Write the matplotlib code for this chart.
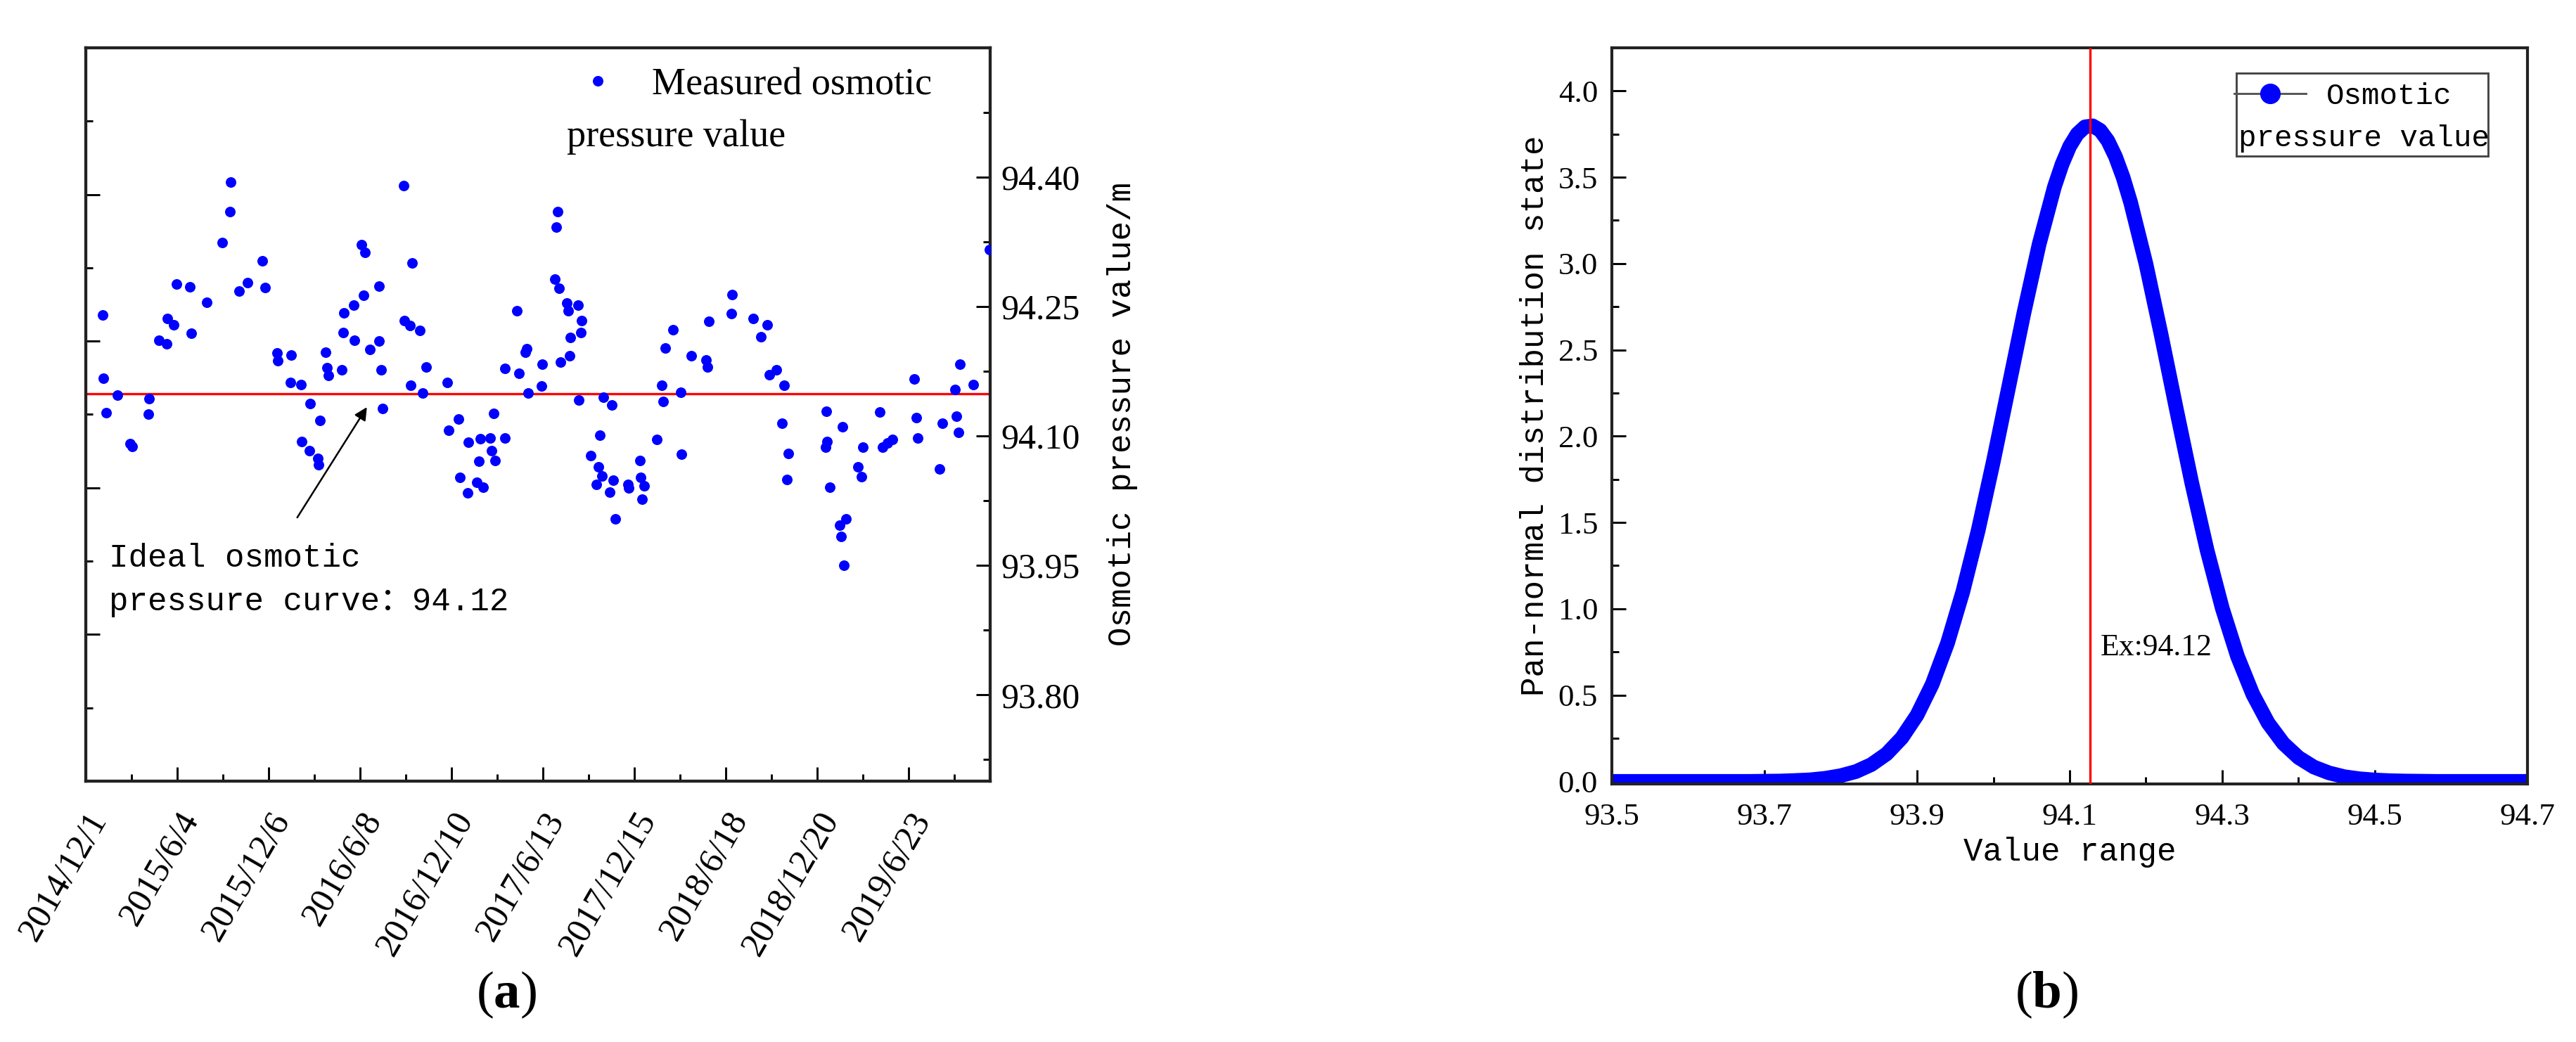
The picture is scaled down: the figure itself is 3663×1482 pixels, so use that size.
import numpy as np
import matplotlib
matplotlib.use("Agg")
import matplotlib.pyplot as plt
import matplotlib.dates as mdates
from matplotlib.ticker import FixedLocator, FormatStrFormatter, NullFormatter
from matplotlib.transforms import ScaledTranslation
from matplotlib.lines import Line2D
from matplotlib.patches import Rectangle
import datetime as dt

plt.rcParams['font.family'] = ['Liberation Serif', 'DejaVu Serif']
plt.rcParams['mathtext.fontset'] = 'custom'
plt.rcParams['mathtext.rm'] = 'Liberation Serif'
plt.rcParams['mathtext.bf'] = 'Liberation Serif:bold'
MONO = ['Liberation Mono', 'Noto Sans CJK SC', 'DejaVu Sans Mono']

# ---------------- data: panel (a) ----------------
start_date = "2014-12-01"
axis_span_days = 1830
days_since_start = [
    34, 36, 42, 65, 90, 94, 127, 128, 148, 164, 166, 178, 184, 211, 214, 245,
    277, 292, 294, 310, 328, 357, 363, 388, 389, 414, 416, 436, 437, 453, 454,
    470, 472, 474, 486, 489, 491, 518, 521, 523, 543, 544, 558, 562, 565, 575,
    593, 594, 598, 601, 643, 645, 656, 657, 661, 676, 682, 689, 731, 735, 755,
    757, 773, 775, 791, 796, 799, 804, 818, 821, 825, 828, 848, 849, 873, 877,
    889, 893, 896, 923, 924, 949, 952, 955, 958, 961, 974, 976, 979, 981, 996,
    998, 1002, 1004, 1022, 1034, 1038, 1040, 1045, 1047, 1061, 1064, 1067, 1072,
    1097, 1099, 1121, 1123, 1126, 1130, 1155, 1166, 1168, 1172, 1189, 1204, 1206,
    1225, 1255, 1258, 1261, 1306, 1308, 1351, 1366, 1379, 1383, 1398, 1409, 1413,
    1419, 1422, 1497, 1498, 1500, 1505, 1525, 1529, 1531, 1534, 1538, 1562, 1570,
    1572, 1607, 1613, 1622, 1632, 1677, 1681, 1684, 1728, 1733, 1759, 1762, 1766,
    1769, 1796, 1828]
measured_values = [
    94.240, 94.167, 94.127, 94.147, 94.091, 94.088, 94.125, 94.143, 94.211, 94.207,
    94.236, 94.229, 94.276, 94.273, 94.219, 94.255, 94.324, 94.360, 94.394, 94.268,
    94.278, 94.303, 94.272, 94.196, 94.187, 94.162, 94.194, 94.160, 94.094, 94.083,
    94.138, 94.074, 94.067, 94.118, 94.197, 94.179, 94.170, 94.177, 94.220, 94.243,
    94.252, 94.211, 94.322, 94.263, 94.313, 94.200, 94.210, 94.274, 94.177, 94.132,
    94.390, 94.234, 94.228, 94.159, 94.301, 94.222, 94.150, 94.180, 94.162, 94.107,
    94.120, 94.052, 94.034, 94.093, 94.046, 94.071, 94.097, 94.041, 94.098, 94.083,
    94.126, 94.072, 94.098, 94.178, 94.245, 94.173, 94.197, 94.201, 94.150, 94.158,
    94.183, 94.282, 94.342, 94.360, 94.271, 94.186, 94.254, 94.245, 94.193, 94.214,
    94.252, 94.142, 94.220, 94.234, 94.077, 94.044, 94.064, 94.101, 94.054, 94.145,
    94.035, 94.136, 94.049, 94.004, 94.044, 94.040, 94.072, 94.052, 94.027, 94.042,
    94.096, 94.159, 94.140, 94.202, 94.223, 94.151, 94.079, 94.193, 94.188, 94.180,
    94.233, 94.242, 94.264, 94.236, 94.215, 94.229, 94.171, 94.177, 94.115, 94.159,
    94.050, 94.080, 94.087, 94.129, 94.094, 94.041, 93.997, 93.984, 94.111, 93.950,
    94.004, 94.064, 94.053, 94.087, 94.128, 94.087, 94.092, 94.096, 94.166, 94.121,
    94.098, 94.062, 94.115, 94.154, 94.123, 94.104, 94.183, 94.160, 94.316]
ideal_value = 94.12
x_tick_labels = ["2014/12/1", "2015/6/4", "2015/12/6", "2016/6/8", "2016/12/10",
                 "2017/6/13", "2017/12/15", "2018/6/18", "2018/12/20", "2019/6/23"]
right_y_ticks = [93.80, 93.95, 94.10, 94.25, 94.40]

# ---------------- data: panel (b) ----------------
value_grid = [
    93.50, 93.52, 93.54, 93.56, 93.58, 93.60, 93.62, 93.64, 93.66, 93.68,
    93.70, 93.72, 93.74, 93.76, 93.78, 93.80, 93.82, 93.84, 93.86, 93.88,
    93.90, 93.92, 93.94, 93.96, 93.98, 94.00, 94.02, 94.04, 94.06, 94.08,
    94.09, 94.10, 94.11, 94.12, 94.13, 94.14, 94.15, 94.16, 94.17, 94.18,
    94.20, 94.22, 94.24, 94.26, 94.28,
    94.30, 94.32, 94.34, 94.36, 94.38, 94.40, 94.42, 94.44, 94.46, 94.48,
    94.50, 94.52, 94.54, 94.56, 94.58, 94.60, 94.62, 94.64, 94.66, 94.68, 94.70]
density_values = [
    0.000, 0.000, 0.000, 0.000, 0.000, 0.000, 0.000, 0.000, 0.000, 0.000,
    0.001, 0.002, 0.005, 0.009, 0.018, 0.033, 0.057, 0.097, 0.159, 0.252,
    0.384, 0.564, 0.802, 1.099, 1.452, 1.854, 2.283, 2.713, 3.112, 3.444,
    3.575, 3.679, 3.751, 3.792, 3.798, 3.772, 3.712, 3.620, 3.500, 3.353,
    2.998, 2.586, 2.153, 1.730, 1.341,
    1.003, 0.724, 0.505, 0.339, 0.220, 0.138, 0.083, 0.049, 0.027, 0.015,
    0.008, 0.004, 0.002, 0.001, 0.000, 0.000, 0.000, 0.000, 0.000, 0.000, 0.000]
ex_value = 94.127
b_x_ticks = [93.5, 93.7, 93.9, 94.1, 94.3, 94.5, 94.7]
b_y_ticks = [0.0, 0.5, 1.0, 1.5, 2.0, 2.5, 3.0, 3.5, 4.0]

BLUE = '#0000ff'
SPINE = '#222222'
DPI = 300

fig = plt.figure(figsize=(3663 / DPI, 1482 / DPI), dpi=DPI)

# ================= panel (a) =================
ax = fig.add_axes([0.03322, 0.25034, 0.35117, 0.70378])
ax2 = ax.twinx()

start = np.datetime64(start_date)
dates = start + np.array(days_since_start).astype('timedelta64[D]')
ax.set_xlim(start, start + np.timedelta64(axis_span_days, 'D'))

# left axis: ideal line (unlabelled scale)
lo = ideal_value - 0.528
ax.set_ylim(lo, lo + 1.0)
ax.axhline(ideal_value, color='red', lw=0.8, zorder=2)
ax.yaxis.set_major_locator(FixedLocator([lo + f for f in (0.2, 0.4, 0.6, 0.8)]))
ax.yaxis.set_minor_locator(FixedLocator([lo + f for f in (0.1, 0.3, 0.5, 0.7, 0.9)]))
ax.tick_params(axis='y', which='both', direction='in', left=True, right=False,
               labelleft=False, labelright=False)

# right axis: measured values
pts, = ax2.plot(dates, measured_values, linestyle='none', marker='o', ms=3.6,
                mew=0, color=BLUE, zorder=3)
ax2.set_ylim(93.70, 94.55)
ax2.yaxis.set_major_locator(FixedLocator(right_y_ticks))
ax2.yaxis.set_minor_locator(FixedLocator([93.725, 93.875, 94.025, 94.175, 94.325, 94.475]))
ax2.yaxis.set_major_formatter(FormatStrFormatter('%.2f'))
ax2.tick_params(axis='y', which='both', direction='in', right=True, left=False,
                labelright=True, labelleft=False, labelsize=12, pad=3.6)
ax2.set_ylabel('Osmotic pressure value/m', family=MONO, fontsize=11)
ax2.yaxis.set_label_coords(1.129, 0.5)

# x axis dates
tick_dates = [mdates.date2num(dt.datetime.strptime(s, "%Y/%m/%d")) for s in x_tick_labels]
minor_dates = [(tick_dates[i] + tick_dates[i + 1]) / 2 for i in range(len(tick_dates) - 1)]
minor_dates.append(tick_dates[-1] + (tick_dates[1] - tick_dates[0]) / 2)
ax.xaxis.set_major_locator(FixedLocator(tick_dates))
ax.xaxis.set_minor_locator(FixedLocator(minor_dates))
ax.set_xticklabels(x_tick_labels, rotation=60, ha='right', va='top',
                   rotation_mode='anchor', fontsize=12)
ax.xaxis.set_minor_formatter(NullFormatter())
ax.tick_params(axis='x', which='both', direction='in', top=False, bottom=True, pad=8.6)
off = ScaledTranslation(30 / DPI, 0, fig.dpi_scale_trans)
for lab in ax.get_xticklabels():
    lab.set_transform(lab.get_transform() + off)

for a in (ax, ax2):
    a.tick_params(which='major', length=4.8, width=0.7, color='black')
    a.tick_params(which='minor', length=2.4, width=0.7, color='black')
    for s in a.spines.values():
        s.set_linewidth(1.0)
        s.set_color(SPINE)

# legend of panel (a)
ax2.legend(handles=[pts], labels=['Measured osmotic'], loc='center left',
           bbox_to_anchor=(0.545, 0.949), frameon=False, handlelength=1.0,
           handletextpad=0.93, borderpad=0, borderaxespad=0, fontsize=13)
ax2.text(0.532, 0.866, 'pressure value', transform=ax2.transAxes, fontsize=13,
         va='baseline', ha='left')

# annotation of the ideal line
ax2.text(0.026, 0.292, 'Ideal osmotic', transform=ax2.transAxes, family=MONO,
         fontsize=11, va='baseline', ha='left')
ax2.text(0.026, 0.233, 'pressure curve：94.12', transform=ax2.transAxes, family=MONO,
         fontsize=11, va='baseline', ha='left')
ax2.annotate('', xy=(0.311, 0.510), xytext=(0.234, 0.3595),
             xycoords='axes fraction', textcoords='axes fraction',
             arrowprops=dict(arrowstyle='-|>', color='black', lw=0.6,
                             mutation_scale=9, shrinkA=0, shrinkB=0))

fig.text(0.1965, 0.045, r'($\mathbf{a}$)', ha='center', va='center', fontsize=18)

# ================= panel (b) =================
bx = fig.add_axes([0.62572, 0.24764, 0.35544, 0.70648])
bx.plot(value_grid, density_values, color=BLUE, lw=5.0,
        solid_joinstyle='round', solid_capstyle='butt', zorder=2)
bx.axvline(ex_value, color='red', lw=0.8, zorder=3)
bx.text(ex_value + 0.013, 0.775, 'Ex:94.12', fontsize=10.5, va='center', ha='left')
bx.set_xlim(93.5, 94.7)
bx.set_ylim(-0.015, 4.25)
bx.xaxis.set_major_locator(FixedLocator(b_x_ticks))
bx.xaxis.set_minor_locator(FixedLocator([93.6, 93.8, 94.0, 94.2, 94.4, 94.6]))
bx.xaxis.set_major_formatter(FormatStrFormatter('%.1f'))
bx.yaxis.set_major_locator(FixedLocator(b_y_ticks))
bx.yaxis.set_minor_locator(FixedLocator([0.25, 0.75, 1.25, 1.75, 2.25, 2.75, 3.25, 3.75, 4.25]))
bx.yaxis.set_major_formatter(FormatStrFormatter('%.1f'))
bx.tick_params(axis='both', which='both', direction='in', top=False, right=False,
               labelsize=10.8)
bx.tick_params(axis='x', pad=6.5)
bx.tick_params(axis='y', pad=4.8)
bx.tick_params(which='major', length=4.8, width=0.7, color='black')
bx.tick_params(which='minor', length=2.4, width=0.7, color='black')
for s in bx.spines.values():
    s.set_linewidth(1.0)
    s.set_color(SPINE)
bx.set_xlabel('Value range', family=MONO, fontsize=11)
bx.xaxis.set_label_coords(0.5, -0.072)
bx.set_ylabel('Pan-normal distribution state', family=MONO, fontsize=11)
bx.yaxis.set_label_coords(-0.067, 0.5)

# legend of panel (b)
bx.add_patch(Rectangle((0.682, 0.8529), 0.275, 0.1127, transform=bx.transAxes,
                       facecolor='white', edgecolor='#444444', lw=0.7, zorder=4))
proxy = Line2D([], [], color='#555555', lw=0.7, marker='o', ms=6,
               markerfacecolor=BLUE, markeredgecolor=BLUE)
leg = bx.legend(handles=[proxy], labels=['Osmotic'], loc='center left',
                bbox_to_anchor=(0.6795, 0.934), frameon=False, handlelength=2.4,
                handletextpad=0.68, borderpad=0, borderaxespad=0,
                prop={'family': MONO, 'size': 10.2})
leg.set_zorder(5)
bx.text(0.6845, 0.8768, 'pressure value', transform=bx.transAxes, family=MONO,
        fontsize=10.2, va='center', ha='left', zorder=6)

fig.text(0.7945, 0.045, r'($\mathbf{b}$)', ha='center', va='center', fontsize=18)

fig.savefig('out.png', dpi=DPI)
